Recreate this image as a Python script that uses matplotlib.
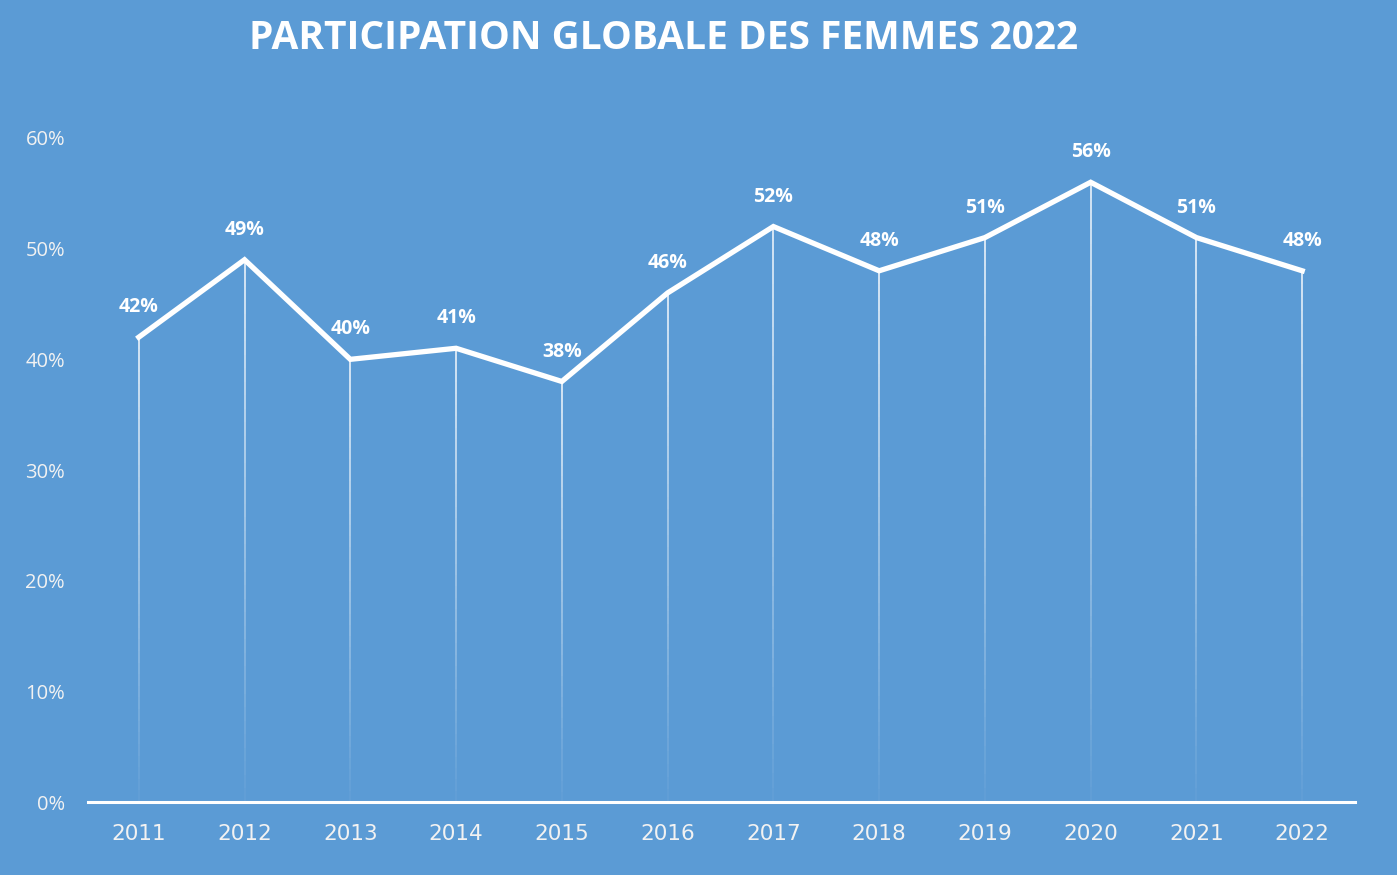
import matplotlib.pyplot as plt
import matplotlib.ticker as tk
import numpy as np
from matplotlib.collections import LineCollection

BG = '#5B9BD5'

years = ['2011', '2012', '2013', '2014', '2015', '2016',
         '2017', '2018', '2019', '2020', '2021', '2022']
participation = [0.42, 0.49, 0.40, 0.41, 0.38, 0.46,
                 0.52, 0.48, 0.51, 0.56, 0.51, 0.48]

plt.rcParams['font.family'] = ['Open Sans', 'DejaVu Sans']

fig = plt.figure(figsize=(13.97, 8.75), dpi=100, facecolor=BG)
ax = fig.add_axes([0.063, 0.0834, 0.907, 0.7589])
ax.set_facecolor(BG)

x = np.arange(len(years))

# drop lines, fading towards the axis
n_seg = 40
for xi, yi in zip(x, participation):
    ys = np.linspace(yi, 0, n_seg + 1)
    segs = [[(xi, ys[k]), (xi, ys[k + 1])] for k in range(n_seg)]
    alphas = np.linspace(0.95, 0.05, n_seg)
    colors = [(1, 1, 1, a) for a in alphas]
    ax.add_collection(LineCollection(segs, colors=colors, linewidths=1.1, zorder=2))

ax.plot(x, participation, color='white', lw=3.8, solid_joinstyle='miter', zorder=3)

for xi, yi in zip(x, participation):
    ax.annotate(f'{yi * 100:.0f}%', xy=(xi, yi), xytext=(0, 21.5),
                textcoords='offset points', ha='center', va='center',
                color='white', fontsize=14, fontweight='bold')

ax.set_xlim(-0.48, 11.5)
ax.set_ylim(0, 0.6)
ax.set_xticks(x)
ax.set_xticklabels(years)
ax.set_yticks(np.arange(0, 0.61, 0.1))
ax.yaxis.set_major_formatter(tk.FuncFormatter(lambda v, p: f'{v * 100:.0f}%'))

for s in ['top', 'right', 'left']:
    ax.spines[s].set_visible(False)
ax.spines['bottom'].set_color('white')
ax.spines['bottom'].set_linewidth(2.2)
ax.tick_params(axis='both', length=0, colors='#F2F2F2', labelsize=14.5)
ax.tick_params(axis='x', pad=15.5)
ax.tick_params(axis='y', pad=16.5)
for lab in ax.get_xticklabels():
    lab.set_fontfamily('DejaVu Sans')
    lab.set_fontsize(15.5)

fig.text(0.475, 0.956, 'PARTICIPATION GLOBALE DES FEMMES 2022',
         ha='center', va='center', color='white', fontsize=28, fontweight='bold')

fig.savefig('out.png', dpi=100, facecolor=BG)
